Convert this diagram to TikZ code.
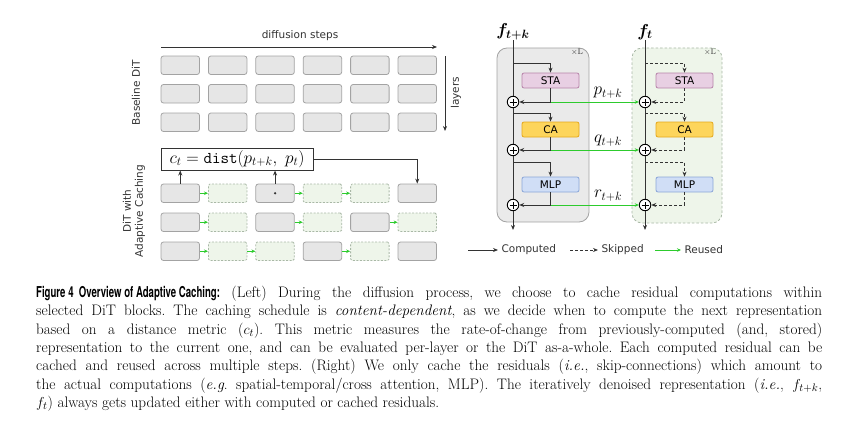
\documentclass[tikz,border=0pt]{standalone}
\usepackage{fontspec}
\usepackage{amsmath,bm}
\usetikzlibrary{arrows.meta}
\newfontfamily\diagfont{DejaVu Sans}
\newfontfamily\headfont{TeX Gyre Heros}

\definecolor{boxgray}{HTML}{E6E6E6}
\definecolor{boxedge}{HTML}{A3A3A3}
\definecolor{cachefill}{HTML}{EEF5EA}
\definecolor{cacheedge}{HTML}{A9B8A6}
\definecolor{reusegreen}{HTML}{2DCB2D}
\definecolor{stafill}{HTML}{E8CFE3}
\definecolor{staedge}{HTML}{B784AA}
\definecolor{cafill}{HTML}{FDD55C}
\definecolor{caedge}{HTML}{E5A81C}
\definecolor{mlpfill}{HTML}{D0DEF6}
\definecolor{mlpedge}{HTML}{8BA6D8}
\definecolor{linegray}{HTML}{333333}

\tikzset{
  dit/.style={draw=boxedge, fill=boxgray, rounded corners=2.5pt, minimum width=38.5pt, minimum height=18.5pt, inner sep=0pt, line width=0.8pt},
  cached/.style={draw=cacheedge, fill=cachefill, dashed, dash pattern=on 2pt off 1.5pt, rounded corners=1.5pt, minimum width=38.5pt, minimum height=18.5pt, inner sep=0pt, line width=0.8pt},
  reuse/.style={-{Stealth[length=4pt,width=3.5pt]}, reusegreen, line width=1pt},
  comp/.style={-{Stealth[length=5pt,width=4pt]}, linegray, line width=1pt},
  skipped/.style={-{Stealth[length=5pt,width=4pt]}, linegray, dashed, dash pattern=on 3pt off 2pt, line width=0.9pt},
  layerbox/.style={minimum width=57pt, minimum height=15pt, rounded corners=2pt, inner sep=0pt, line width=0.8pt, font=\diagfont\fontsize{10.5}{12}\selectfont},
  plusnode/.style={circle, draw=black, fill=white, minimum size=11.5pt, inner sep=0pt, line width=0.9pt,
    path picture={\draw[line width=0.9pt] ([xshift=-3.5pt]path picture bounding box.center) -- ([xshift=3.5pt]path picture bounding box.center);
      \draw[line width=0.9pt] ([yshift=-3.5pt]path picture bounding box.center) -- ([yshift=3.5pt]path picture bounding box.center);}},
  lbl/.style={font=\diagfont\fontsize{10.5}{12}\selectfont, text=linegray},
  mathlbl/.style={font=\fontsize{17}{20}\selectfont, inner sep=0pt}
}

\begin{document}
\begin{tikzpicture}[x=1pt, y=-1pt]

\useasboundingbox (0,0) rectangle (850,428);

\node[lbl] (steps) at (300,36) {diffusion steps};
\coordinate (steps-start) at (161,47);
\coordinate (steps-end) at (437,47);
\draw[comp, line width=0.7pt] (steps-start) -- (steps-end);

\node[lbl, rotate=90] (baseline) at (136,93) {Baseline DiT};
\node[lbl, rotate=90] (layers) at (456,93) {layers};
\coordinate (layers-start) at (445,56);
\coordinate (layers-end) at (445,131);
\draw[comp, line width=0.7pt] (layers-start) -- (layers-end);

\foreach \r/\y in {1/65.25, 2/93.75, 3/122.25}
  \foreach \c in {1,...,6}
    \node[dit] (bl-\r-\c) at ({180.25 + 47.4*(\c-1)}, \y) {};

\node[lbl, rotate=90, align=center] (adaptive) at (134,211) {DiT with\\Adaptive Caching};

\foreach \c/\s in {1/dit, 2/cached, 3/dit, 4/cached, 5/cached, 6/dit}
  \node[\s] (ac-1-\c) at ({180.25 + 47.4*(\c-1)}, 193.25) {};
\foreach \c/\s in {1/dit, 2/cached, 3/dit, 4/cached, 5/dit, 6/cached}
  \node[\s] (ac-2-\c) at ({180.25 + 47.4*(\c-1)}, 222.25) {};
\foreach \c/\s in {1/dit, 2/cached, 3/cached, 4/dit, 5/cached, 6/dit}
  \node[\s] (ac-3-\c) at ({180.25 + 47.4*(\c-1)}, 251.25) {};

\foreach \a/\b in {1/2, 3/4, 4/5} \draw[reuse] (ac-1-\a.east) -- (ac-1-\b.west);
\foreach \a/\b in {1/2, 3/4, 5/6} \draw[reuse] (ac-2-\a.east) -- (ac-2-\b.west);
\foreach \a/\b in {1/2, 2/3, 4/5} \draw[reuse] (ac-3-\a.east) -- (ac-3-\b.west);

\fill[linegray] (ac-1-3.center) circle (1.3pt);

\node[draw=linegray, fill=white, line width=1pt, minimum width=152pt, minimum height=22pt, inner sep=0pt, font=\fontsize{16.5}{19}\selectfont] (dist) at (237,159) {$c_t = \mathtt{dist}(p_{t+k},\ p_t)$};

\draw[comp] (ac-1-1.north) -- (ac-1-1.north |- dist.south);
\draw[comp] (ac-1-3.north) -- (ac-1-3.north |- dist.south);
\draw[comp] (dist.east) -| (ac-1-6.north);

\node[draw=boxedge, fill=boxgray!85, rounded corners=10pt, minimum width=92pt, minimum height=174pt, line width=0.8pt] (blkL) at (543,135) {};
\node[draw=cacheedge, fill=cachefill, dashed, dash pattern=on 2.5pt off 2pt, rounded corners=10pt, minimum width=90pt, minimum height=175pt, line width=0.8pt] (blkR) at (677,135.5) {};
\node[font=\fontsize{8}{9}\selectfont, text=linegray] (xL) at (577,52) {$\times$L};
\node[font=\fontsize{8}{9}\selectfont, text=linegray] (xR) at (710,52) {$\times$L};

\node[mathlbl] (fL) at (513,32) {$\bm{f}_{\bm{t+k}}$};
\node[mathlbl] (fR) at (645,32) {$\bm{f}_{\bm{t}}$};

\node[layerbox, draw=staedge, fill=stafill] (staL) at (550.5,80.5) {STA};
\node[layerbox, draw=caedge, fill=cafill] (caL) at (550.5,129.5) {CA};
\node[layerbox, draw=mlpedge, fill=mlpfill] (mlpL) at (550.5,184.5) {MLP};
\node[layerbox, draw=staedge, fill=stafill] (staR) at (684.5,80.5) {STA};
\node[layerbox, draw=caedge, fill=cafill] (caR) at (684.5,129.5) {CA};
\node[layerbox, draw=mlpedge, fill=mlpfill] (mlpR) at (684.5,184.5) {MLP};

\node[plusnode] (plusL1) at (513,102) {};
\node[plusnode] (plusL2) at (513,150) {};
\node[plusnode] (plusL3) at (513,205) {};
\node[plusnode] (plusR1) at (645,102) {};
\node[plusnode] (plusR2) at (645,150) {};
\node[plusnode] (plusR3) at (645,205) {};

\coordinate (endL) at (513,230);
\coordinate (endR) at (645,230);
\coordinate (brL1) at (513,63);
\coordinate (brL2) at (513,113);
\coordinate (brL3) at (513,162);
\coordinate (brR1) at (645,63);
\coordinate (brR2) at (645,113);
\coordinate (brR3) at (645,162);

\draw[linegray, line width=1pt] (fL.south) -- (plusL1) (plusL1) -- (plusL2) (plusL2) -- (plusL3);
\draw[comp] (plusL3) -- (endL);
\draw[linegray, line width=1pt] (fR.south) -- (plusR1) (plusR1) -- (plusR2) (plusR2) -- (plusR3);
\draw[comp] (plusR3) -- (endR);

\draw[reuse] (staL.south |- plusL1) -- (plusR1.west);
\draw[reuse] (caL.south |- plusL2) -- (plusR2.west);
\draw[reuse] (mlpL.south |- plusL3) -- (plusR3.west);

\draw[comp] (brL1) -| (staL.north);
\draw[comp] (staL.south) |- (plusL1.east);
\draw[comp] (brL2) -| (caL.north);
\draw[comp] (caL.south) |- (plusL2.east);
\draw[comp] (brL3) -| (mlpL.north);
\draw[comp] (mlpL.south) |- (plusL3.east);

\draw[skipped] (brR1) -| (staR.north);
\draw[skipped] (staR.south) |- (plusR1.east);
\draw[skipped] (brR2) -| (caR.north);
\draw[skipped] (caR.south) |- (plusR2.east);
\draw[skipped] (brR3) -| (mlpR.north);
\draw[skipped] (mlpR.south) |- (plusR3.east);

\node[mathlbl] (plab) at (608,93) {$p_{t+k}$};
\node[mathlbl] (qlab) at (608,141) {$q_{t+k}$};
\node[mathlbl] (rlab) at (608,196) {$r_{t+k}$};

\node[lbl, anchor=west] (computed) at (498,250) {Computed};
\coordinate (computed-tail) at (468,250);
\draw[comp] (computed-tail) -- (computed.west);
\node[lbl, anchor=west] (skipped-lbl) at (598,250) {Skipped};
\coordinate (skipped-tail) at (570,250);
\draw[skipped] (skipped-tail) -- (skipped-lbl.west);
\node[lbl, anchor=west] (reused) at (681,250) {Reused};
\coordinate (reused-tail) at (655,250);
\draw[reuse] (reused-tail) -- (reused.west);

\node[anchor=north west, text width=786pt, inner sep=0pt, align=justify, font=\fontsize{15.2}{18.3}\selectfont] (caption) at (36,286) {\frenchspacing{\headfont\bfseries\fontsize{15}{18.3}\selectfont\scalebox{0.64}[1]{Figure 4\ \ Overview of Adaptive Caching:}} (Left) During the diffusion process, we choose to cache residual computations within\linebreak
selected DiT blocks. The caching schedule is \emph{content-dependent}, as we decide when to compute the next representation\linebreak
based on a distance metric ($c_t$). This metric measures the rate-of-change from previously-computed (and, stored)\linebreak
representation to the current one, and can be evaluated per-layer or the DiT as-a-whole. Each computed residual can be\linebreak
cached and reused across multiple steps. (Right) We only cache the residuals (\emph{i.e.}, skip-connections) which amount to\linebreak
the actual computations (\emph{e.g}. spatial-temporal/cross attention, MLP). The iteratively denoised representation (\emph{i.e.}, $f_{t+k}$,\linebreak
$f_t$) always gets updated either with computed or cached residuals.};

\end{tikzpicture}
\end{document}
